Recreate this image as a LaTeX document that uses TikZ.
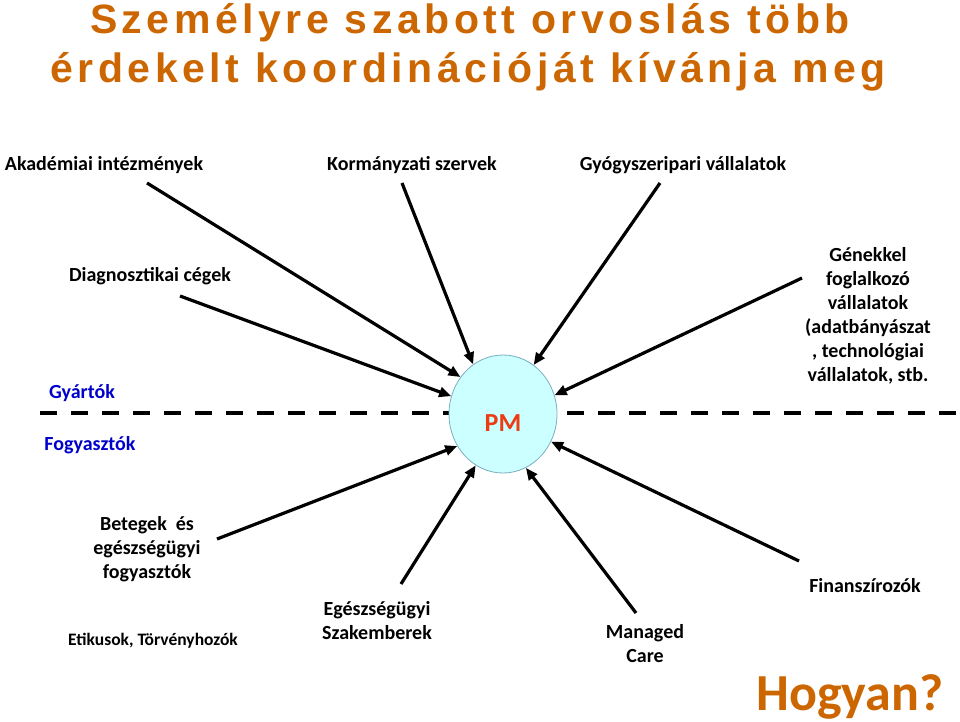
\documentclass[tikz,border=0pt]{standalone}
\usepackage{fontspec}
\setmainfont{Carlito}
\newfontfamily\titlefont[LetterSpace=11]{Liberation Sans}
\usetikzlibrary{arrows.meta,positioning,shapes.geometric}
\definecolor{titleorange}{RGB}{204,102,0}
\definecolor{sideblue}{RGB}{0,0,204}
\definecolor{pmred}{RGB}{235,60,20}
\definecolor{pmfill}{RGB}{204,255,255}
\definecolor{pmedge}{RGB}{120,175,190}

\begin{document}
\begin{tikzpicture}[x=1pt,y=-1pt,
  lbl/.style={anchor=base,inner sep=0pt,align=center,font=\fontsize{20}{24}\selectfont\bfseries},
  side/.style={lbl,text=sideblue},
  headline/.style={anchor=base,inner sep=0pt,text=titleorange,font=\titlefont\fontsize{41}{49}\selectfont\bfseries},
  arr/.style={line width=3.2pt,-{Triangle[length=12pt,width=10pt]}},
  divider/.style={line width=4pt,dash pattern=on 17pt off 14pt}]
 \useasboundingbox (0,0) rectangle (960,722);

 % title
 \node (title1) [headline] at (470,34) {Személyre szabott orvoslás több};
 \node (title2) [headline] at (468,83) {érdekelt koordinációját kívánja meg};

 % Gyartok / Fogyasztok
 \coordinate (divL) at (40,413);
 \coordinate (divR) at (960,413);
 \draw[divider] (divL) -- (divR);
 \node (gyartok) [side] at (82,398) {Gyártók};
 \node (fogyaszt) [side] at (90,450) {Fogyasztók};

 % center
 \node (pm) [ellipse,draw=pmedge,line width=0.8pt,fill=pmfill,minimum width=108pt,minimum height=118pt,inner sep=0pt] at (503,414) {};
 \node (pmtext) [anchor=base,inner sep=0pt,text=pmred,font=\fontsize{26}{30}\selectfont\bfseries] at (503,431) {PM};

 % labels (base = last line)
 \node (akad) [lbl] at (104,171) {Akadémiai intézmények};
 \node (korm) [lbl] at (412,171) {Kormányzati szervek};
 \node (gyogy) [lbl] at (683,171) {Gyógyszeripari vállalatok};
 \node (diag) [lbl] at (150,281) {Diagnosztikai cégek};
 \node (gen) [lbl] at (868,381) {Génekkel\\foglalkozó\\vállalatok\\(adatbányászat\\, technológiai\\vállalatok, stb.};
 \node (beteg) [lbl] at (147,578) {Betegek~ és\\egészségügyi\\fogyasztók};
 \node (etik) [lbl,font=\fontsize{17.5}{21}\selectfont\bfseries] at (153,645) {Etikusok, Törvényhozók};
 \node (eusz) [lbl] at (377,639) {Egészségügyi\\Szakemberek};
 \node (manag) [lbl] at (645,662) {Managed\\Care};
 \node (finan) [lbl] at (865,592) {Finanszírozók};
 \node (hogyan) [anchor=base,inner sep=0pt,text=titleorange,font=\fontsize{52}{60}\selectfont\bfseries] at (850,710) {Hogyan?};

 % arrow tails
 \coordinate (akad-t) at (147,183);
 \coordinate (korm-t) at (402,183);
 \coordinate (gyogy-t) at (660,183);
 \coordinate (diag-t) at (180,296);
 \coordinate (gen-t) at (802,278);
 \coordinate (beteg-t) at (217,539);
 \coordinate (eusz-t) at (401,584);
 \coordinate (manag-t) at (636,613);
 \coordinate (finan-t) at (799,561);

 \draw[arr] (akad-t) -- (pm.139);
 \draw[arr] (diag-t) -- (pm.161);
 \draw[arr] (korm-t) -- (pm.121);
 \draw[arr] (gyogy-t) -- (pm.58);
 \draw[arr] (gen-t) -- (pm.20);
 \draw[arr] (beteg-t) -- (pm.215);
 \draw[arr] (eusz-t) -- (pm.242);
 \draw[arr] (manag-t) -- (pm.293);
 \draw[arr] (finan-t) -- (pm.330);
\end{tikzpicture}
\end{document}
